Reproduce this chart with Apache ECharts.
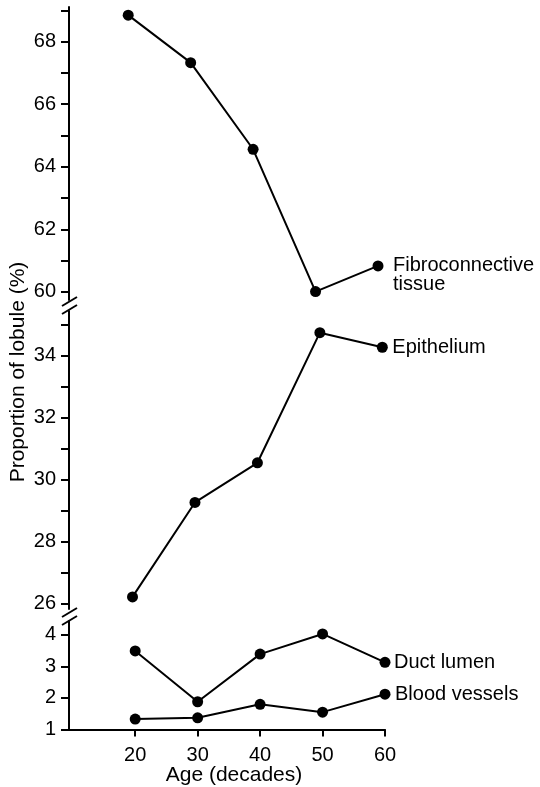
<!DOCTYPE html>
<html>
<head>
<meta charset="utf-8">
<script src="https://cdn.jsdelivr.net/npm/echarts@6/dist/echarts.min.js"></script>
<style>
  html, body { margin: 0; padding: 0; background: #fff; }
  #chart { width: 540px; height: 787px; }
</style>
</head>
<body>
<div id="chart"></div>
<script>
// ---- data ----
const ages = [20, 30, 40, 50, 60];
const fibroconnective = [68.85, 67.33, 64.56, 60.01, 60.83];
const epithelium = [26.21, 29.26, 30.54, 34.74, 34.27];
const ductLumen = [3.49, 1.88, 3.39, 4.03, 3.13];
const bloodVessels = [1.33, 1.37, 1.80, 1.55, 2.12];

const xTickValues = [20, 30, 40, 50, 60];
const topTickValues = [60, 61, 62, 63, 64, 65, 66, 67, 68, 69];
const topLabelValues = [60, 62, 64, 66, 68];
const midTickValues = [26, 27, 28, 29, 30, 31, 32, 33, 34, 35];
const midLabelValues = [26, 28, 30, 32, 34];
const botTickValues = [1, 2, 3, 4];
const botLabelValues = [1, 2, 3, 4];

const FONT = 'Liberation Sans';
const BLACK = '#000';

function pairs(ys) { return ages.map((a, i) => [a, ys[i]]); }

function yAx(gridIndex, min, max, ticks, labels) {
  return {
    type: 'value', gridIndex, min, max,
    axisLine: { show: true, lineStyle: { color: BLACK, width: 2 } },
    axisTick: { show: true, length: 8, customValues: ticks, lineStyle: { color: BLACK, width: 2 } },
    axisLabel: { customValues: labels, margin: 13, color: BLACK, fontFamily: FONT, fontSize: 20 },
    splitLine: { show: false }
  };
}

function lineSeries(name, xi, yi, ys, label, offset, dist) {
  return {
    type: 'line', name, xAxisIndex: xi, yAxisIndex: yi,
    data: pairs(ys),
    symbol: 'circle', symbolSize: 11,
    itemStyle: { color: BLACK },
    lineStyle: { color: BLACK, width: 2 },
    endLabel: {
      show: true, formatter: label, distance: dist, offset: offset,
      color: BLACK, fontFamily: FONT, fontSize: 20, lineHeight: 19, align: 'left'
    },
    z: 3
  };
}

const chart = echarts.init(document.getElementById('chart'), null, { renderer: 'canvas' });

const option = {
  backgroundColor: '#fff',
  animation: false,
  grid: [
    { left: 69, width: 316, top: 7, height: 293 },
    { left: 69, width: 316, top: 311, height: 298 },
    { left: 69, width: 316, top: 621, height: 108.5 }
  ],
  xAxis: [
    { type: 'value', gridIndex: 0, min: 10.52, max: 61.12, show: false },
    { type: 'value', gridIndex: 1, min: 9.83, max: 60.43, show: false },
    {
      type: 'value', gridIndex: 2, min: 9.4, max: 60,
      axisLine: { show: true, lineStyle: { color: BLACK, width: 2 } },
      axisTick: { show: true, length: 7, customValues: xTickValues, lineStyle: { color: BLACK, width: 2 } },
      axisLabel: { customValues: xTickValues, margin: 16, color: BLACK, fontFamily: FONT, fontSize: 20 },
      splitLine: { show: false }
    }
  ],
  yAxis: [
    yAx(0, 59.74, 69.11, topTickValues, topLabelValues),
    yAx(1, 25.82, 35.44, midTickValues, midLabelValues),
    yAx(2, 1, 4.44, botTickValues, botLabelValues)
  ],
  series: [
    lineSeries('Fibroconnective tissue', 0, 0, fibroconnective, 'Fibroconnective\ntissue', [0, 9], 15),
    lineSeries('Epithelium', 1, 1, epithelium, 'Epithelium', [0, 0], 10),
    lineSeries('Duct lumen', 2, 2, ductLumen, 'Duct lumen', [0, 0], 9),
    lineSeries('Blood vessels', 2, 2, bloodVessels, 'Blood vessels', [0, 0], 10)
  ],
  graphic: [
    // axis break marks
    { type: 'line', shape: { x1: 62, y1: 306, x2: 77, y2: 297 }, style: { stroke: BLACK, lineWidth: 2 } },
    { type: 'line', shape: { x1: 62, y1: 314, x2: 77, y2: 305 }, style: { stroke: BLACK, lineWidth: 2 } },
    { type: 'line', shape: { x1: 62, y1: 617, x2: 77, y2: 608 }, style: { stroke: BLACK, lineWidth: 2 } },
    { type: 'line', shape: { x1: 62, y1: 625, x2: 77, y2: 616 }, style: { stroke: BLACK, lineWidth: 2 } },
    // axis titles
    {
      type: 'text', x: 18, y: 372, rotation: Math.PI / 2,
      style: { text: 'Proportion of lobule (%)', fill: BLACK, font: '21px "Liberation Sans"', align: 'center', verticalAlign: 'middle' }
    },
    {
      type: 'text', x: 234, y: 775,
      style: { text: 'Age (decades)', fill: BLACK, font: '21px "Liberation Sans"', align: 'center', verticalAlign: 'middle' }
    }
  ]
};

chart.setOption(option);
</script>
</body>
</html>
